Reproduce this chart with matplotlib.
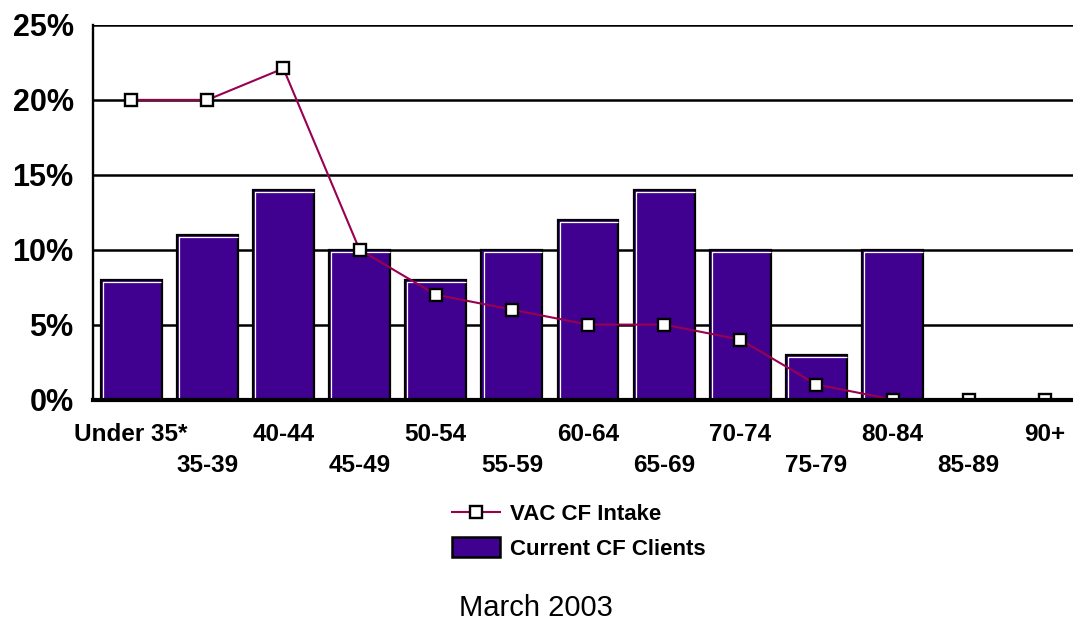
"""
Age profile of CF clients: current caseload (bars) against
VAC CF intake (line), March 2003.
"""

import matplotlib
matplotlib.use("Agg")
import matplotlib.pyplot as plt
import matplotlib.patches as mpatches
import matplotlib.transforms as mtransforms
from matplotlib.lines import Line2D

plt.rcParams["font.family"] = ["Liberation Sans", "DejaVu Sans"]

AGE_GROUPS = ["Under 35*", "35-39", "40-44", "45-49", "50-54", "55-59",
              "60-64", "65-69", "70-74", "75-79", "80-84", "85-89", "90+"]
CURRENT_CLIENTS = [8, 11, 14, 10, 8, 10, 12, 14, 10, 3, 10, 0, 0]
VAC_INTAKE = [20, 20, 22.1, 10, 7, 6, 5, 5, 4, 1, 0, 0, 0]
Y_TICKS = [0, 5, 10, 15, 20, 25]

PURPLE = "#400090"
CRIMSON = "#990050"
BAR_W = 0.8


def main():
    fig = plt.figure(figsize=(10.73, 6.2), dpi=100)
    ax = fig.add_axes([93 / 1073, 220.5 / 620, 990 / 1073, 374.5 / 620])

    x = list(range(len(AGE_GROUPS)))

    # horizontal rules behind everything
    for v in Y_TICKS[1:]:
        ax.axhline(v, color="black", lw=1.8, zorder=0.5)

    ax.bar(x, CURRENT_CLIENTS, width=BAR_W, color=PURPLE,
           edgecolor="black", linewidth=1.6, zorder=2)

    # white highlight on the left and top edge of each bar
    hl = mtransforms.offset_copy(ax.transData, fig=fig, x=2.2, y=-2.2,
                                 units="dots")
    for xi, v in zip(x, CURRENT_CLIENTS):
        if v <= 0:
            continue
        x0 = xi - BAR_W / 2
        x1 = xi + BAR_W / 2
        ax.plot([x0, x0, x1 - 0.03], [0.15, v, v], color="white", lw=0.9,
                transform=hl, zorder=2.5, solid_capstyle="butt")

    ax.plot(x, VAC_INTAKE, color=CRIMSON, lw=1.5, marker="s", ms=8,
            mfc="white", mec="black", mew=1.7, zorder=3)

    ax.set_xlim(-0.5, 12.5)
    ax.set_ylim(0, 25)
    ax.set_yticks(Y_TICKS)
    ax.set_yticklabels([f"{v}%" for v in Y_TICKS], fontsize=22,
                       fontweight="bold")

    # age labels alternate between two rows: even groups on the major
    # ticks, odd groups on minor ticks pushed further down
    ax.set_xticks(x[0::2])
    ax.set_xticklabels(AGE_GROUPS[0::2], fontsize=17.5, fontweight="bold")
    ax.set_xticks(x[1::2], minor=True)
    ax.set_xticklabels(AGE_GROUPS[1::2], minor=True, fontsize=17.5,
                       fontweight="bold")
    ax.tick_params(axis="y", length=0, pad=14)
    ax.tick_params(axis="x", which="major", length=0, pad=17)
    ax.tick_params(axis="x", which="minor", length=0, pad=39.5)

    for side in ("top", "right"):
        ax.spines[side].set_visible(False)
    ax.spines["left"].set_linewidth(1.7)
    ax.spines["bottom"].set_linewidth(3)
    ax.spines["bottom"].set_zorder(4)

    line_h = Line2D([], [], color=CRIMSON, lw=1.5, marker="s", ms=8,
                    mfc="white", mec="black", mew=1.7)
    bar_h = mpatches.Patch(facecolor=PURPLE, edgecolor="black", lw=1.8)
    fig.legend(handles=[line_h, bar_h],
               labels=["VAC CF Intake", "Current CF Clients"],
               loc="upper left", bbox_to_anchor=(452 / 1073, 1 - 503 / 620),
               frameon=False, borderpad=0, borderaxespad=0,
               handlelength=2.15, handleheight=0.95, handletextpad=0.45,
               labelspacing=0.55, prop={"size": 16, "weight": "bold"})

    fig.text(0.4995, 4 / 620, "March 2003", ha="center", va="baseline",
             fontsize=21)

    fig.savefig("out.png", dpi=100)


if __name__ == "__main__":
    main()
